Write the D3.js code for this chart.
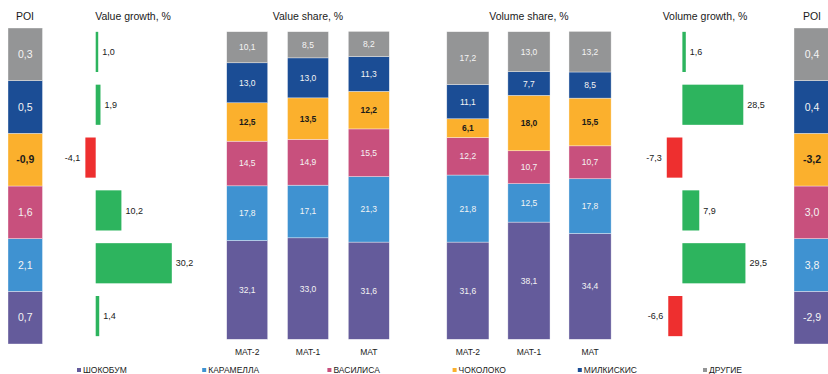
<!DOCTYPE html>
<html>
<head>
<meta charset="utf-8">
<script src="https://cdn.jsdelivr.net/npm/d3@7"></script>
<style>
  html, body { margin: 0; padding: 0; background: #ffffff; }
  svg { display: block; font-family: "Liberation Sans", Arial, sans-serif; }
</style>
</head>
<body>
<svg id="chart" width="828" height="374"></svg>
<script>
// Brands, bottom of each stack first
const brands = ["ШОКОБУМ", "КАРАМЕЛЛА", "ВАСИЛИСА", "ЧОКОЛОКО", "МИЛКИСКИС", "ДРУГИЕ"];
const brandColors = ["#645b9b", "#3f92d1", "#c8507d", "#fbb02d", "#1b4d95", "#949596"];
const periods = ["MAT-2", "MAT-1", "MAT"];

// Value share, % (per period, same order as brands)
const valueShareMat2 = [32.1, 17.8, 14.5, 12.5, 13.0, 10.1];
const valueShareMat1 = [33.0, 17.1, 14.9, 13.5, 13.0, 8.5];
const valueShareMat  = [31.6, 21.3, 15.5, 12.2, 11.3, 8.2];

// Volume share, %
const volumeShareMat2 = [31.6, 21.8, 12.2, 6.1, 11.1, 17.2];
const volumeShareMat1 = [38.1, 12.5, 10.7, 18.0, 7.7, 13.0];
const volumeShareMat  = [34.4, 17.8, 10.7, 15.5, 8.5, 13.2];

// Growth, %
const valueGrowth  = [1.4, 30.2, 10.2, -4.1, 1.9, 1.0];
const volumeGrowth = [-6.6, 29.5, 7.9, -7.3, 28.5, 1.6];

// POI
const poiValue  = [0.7, 2.1, 1.6, -0.9, 0.5, 0.3];
const poiVolume = [-2.9, 3.8, 3.0, -3.2, 0.4, 0.4];

const svg = d3.select("#chart");
const fmt = v => d3.format(".1f")(v).replace(".", ",").replace("−", "-");
const color = d3.scaleOrdinal().domain(brands).range(brandColors);
const isDarkText = b => b === "ЧОКОЛОКО";
const textDark = "#1a1a1a";

// Rows: top row is the last brand
const rowOrder = brands.slice().reverse();
const yRow = d3.scaleBand().domain(rowOrder).range([28, 344]);
const yBar = d3.scaleBand().domain(rowOrder).range([25.5, 342.5])
  .paddingInner(0.24).paddingOuter(0.12);

function title(x, text) {
  svg.append("text").attr("x", x).attr("y", 20)
    .attr("text-anchor", "middle").attr("font-size", 10.5)
    .attr("fill", textDark).text(text);
}

// POI column
function poiColumn(x0, width, values, titleX) {
  title(titleX, "POI");
  const g = svg.append("g");
  const rows = brands.map((b, i) => ({ b, v: values[i] }));
  g.selectAll("rect").data(rows).join("rect")
    .attr("x", x0).attr("width", width)
    .attr("y", d => yRow(d.b)).attr("height", yRow.bandwidth())
    .attr("fill", d => color(d.b))
    .attr("stroke", "#ffffff").attr("stroke-width", 0.6).attr("stroke-opacity", 0.6);
  g.selectAll("text").data(rows).join("text")
    .attr("x", x0 + width / 2)
    .attr("y", d => yRow(d.b) + yRow.bandwidth() / 2)
    .attr("dy", "0.35em").attr("text-anchor", "middle")
    .attr("font-size", 10.5)
    .attr("font-weight", d => isDarkText(d.b) ? "bold" : "normal")
    .attr("fill", d => isDarkText(d.b) ? textDark : "#f4f4f4")
    .text(d => fmt(d.v));
}

// Diverging growth bars
function growthChart(x, values, titleX, titleText) {
  title(titleX, titleText);
  const g = svg.append("g");
  const rows = brands.map((b, i) => ({ b, v: values[i] }));
  g.selectAll("rect").data(rows).join("rect")
    .attr("x", d => Math.min(x(0), x(d.v)))
    .attr("width", d => Math.abs(x(d.v) - x(0)))
    .attr("y", d => yBar(d.b)).attr("height", yBar.bandwidth())
    .attr("fill", d => d.v >= 0 ? "#2db45e" : "#ee2f2f");
  g.selectAll("text").data(rows).join("text")
    .attr("x", d => d.v >= 0 ? x(d.v) + 4 : x(d.v) - 5)
    .attr("y", d => yBar(d.b) + yBar.bandwidth() / 2)
    .attr("dy", "0.35em")
    .attr("text-anchor", d => d.v >= 0 ? "start" : "end")
    .attr("font-size", 9).attr("fill", textDark)
    .text(d => fmt(d.v));
}

// 100% stacked share columns
const yShare = d3.scaleLinear().domain([0, 100]).range([339.3, 31.7]);
function shareChart(x, series, titleText) {
  title(x("MAT-1") + x.bandwidth() / 2, titleText);
  const table = periods.map((p, i) => {
    const row = { period: p };
    brands.forEach((b, j) => { row[b] = series[i][j]; });
    return row;
  });
  const stacked = d3.stack().keys(brands)(table);
  const g = svg.append("g");
  const layer = g.selectAll("g.layer").data(stacked).join("g").attr("class", "layer");
  layer.selectAll("rect").data(s => s.map(d => ({ b: s.key, d }))).join("rect")
    .attr("x", e => x(e.d.data.period)).attr("width", x.bandwidth())
    .attr("y", e => yShare(e.d[1]))
    .attr("height", e => yShare(e.d[0]) - yShare(e.d[1]))
    .attr("fill", e => color(e.b))
    .attr("stroke", "#ffffff").attr("stroke-width", 0.6).attr("stroke-opacity", 0.6);
  layer.selectAll("text").data(s => s.map(d => ({ b: s.key, d }))).join("text")
    .attr("x", e => x(e.d.data.period) + x.bandwidth() / 2)
    .attr("y", e => (yShare(e.d[0]) + yShare(e.d[1])) / 2)
    .attr("dy", "0.35em").attr("text-anchor", "middle")
    .attr("font-size", 8.5)
    .attr("font-weight", e => isDarkText(e.b) ? "bold" : "normal")
    .attr("fill", e => isDarkText(e.b) ? textDark : "#f4f4f4")
    .text(e => fmt(e.d.data[e.b]));
  const axis = d3.axisBottom(x).tickSize(0).tickPadding(0);
  const ax = svg.append("g").attr("transform", "translate(0,349)").call(axis);
  ax.select(".domain").remove();
  ax.selectAll("text").attr("font-size", 8.5).attr("fill", textDark)
    .attr("font-family", "Liberation Sans, Arial, sans-serif").attr("dy", "0.71em");
}

poiColumn(8, 34.5, poiValue, 25);
growthChart(d3.scaleLinear().domain([-5, 35]).range([83.1, 183.9]), valueGrowth, 133, "Value growth, %");

const xValue = d3.scaleBand().domain(periods).range([216.8, 399.2]).paddingInner(0.326).paddingOuter(0.163);
shareChart(xValue, [valueShareMat2, valueShareMat1, valueShareMat], "Value share, %");

const xVolume = d3.scaleBand().domain(periods).range([437.3, 620.6]).paddingInner(0.31).paddingOuter(0.155);
shareChart(xVolume, [volumeShareMat2, volumeShareMat1, volumeShareMat], "Volume share, %");

growthChart(d3.scaleLinear().domain([-10, 30]).range([661, 746.5]), volumeGrowth, 705, "Volume growth, %");
poiColumn(794, 36, poiVolume, 812);

// Legend
const xLegend = d3.scalePoint().domain(brands).range([77, 703]);
const legend = svg.append("g").selectAll("g").data(brands).join("g")
  .attr("transform", b => `translate(${xLegend(b)},370)`);
legend.append("rect").attr("x", 0).attr("y", -2).attr("width", 4).attr("height", 4)
  .attr("fill", b => color(b));
legend.append("text").attr("x", 6).attr("dy", "0.35em")
  .attr("font-size", 8.5).attr("fill", textDark).text(b => b);
</script>
</body>
</html>
